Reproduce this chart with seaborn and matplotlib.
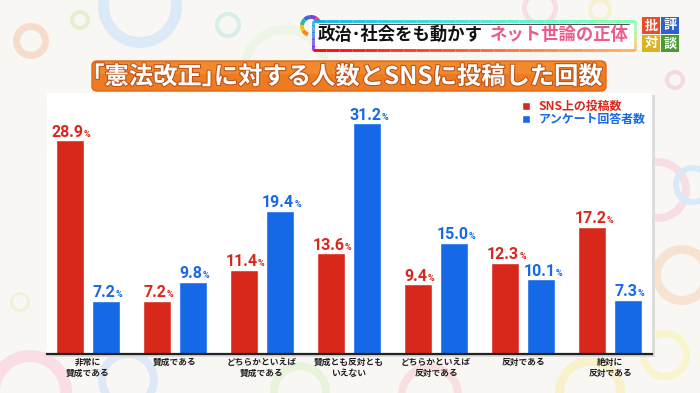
import matplotlib
matplotlib.use('Agg')
import matplotlib.pyplot as plt
import matplotlib.patheffects as pe
from matplotlib.patches import Wedge, FancyBboxPatch, Rectangle
from matplotlib.collections import LineCollection
from matplotlib.offsetbox import TextArea, HPacker, AnnotationBbox
import numpy as np
import pandas as pd
import seaborn as sns

# data (percent)
categories = ['非常に\n賛成である', '賛成である', 'どちらかといえば\n賛成である',
              '賛成とも反対とも\nいえない', 'どちらかといえば\n反対である',
              '反対である', '絶対に\n反対である']
sns_posts = [28.9, 7.2, 11.4, 13.6, 9.4, 12.3, 17.2]
survey_answers = [7.2, 9.8, 19.4, 31.2, 15.0, 10.1, 7.3]
series_names = ['SNS上の投稿数', 'アンケート回答者数']

title = '｢憲法改正｣に対する人数とSNSに投稿した回数'
header_main = '政治･社会をも動かす'
header_pink = 'ネット世論の正体'
logo_chars = ['批', '評', '対', '談']

RED = '#d8281c'
BLUE = '#1669e6'
JP = ['Noto Sans CJK JP', 'DejaVu Sans']
NUM = ['Roboto', 'Noto Sans CJK JP', 'DejaVu Sans']

df = pd.DataFrame({'category': categories,
                   series_names[0]: sns_posts,
                   series_names[1]: survey_answers})
df = df.melt(id_vars='category', var_name='series', value_name='value')

sns.set_theme(style='white')
plt.rcParams['font.family'] = JP

fig = plt.figure(figsize=(7, 3.93), dpi=100)
fig.patch.set_facecolor('#f8f7f4')

# background layer in pixel coordinates
bg = fig.add_axes([0, 0, 1, 1], zorder=0)
bg.set_xlim(0, 700)
bg.set_ylim(393, 0)
bg.axis('off')

rings = [
    (31, 41, 18, 7, '#f6dccb'), (80, 20, 10, 4, '#e6f1cc'),
    (140, 6, 42, 11, '#dce9f6'), (228, 25, 13, 4, '#d7eee9'),
    (285, 70, 45, 9, '#edf5e6'), (20, 302, 10, 3, '#eef3d8'),
    (30, 392, 42, 12, '#f9dfe4'), (128, 380, 30, 8, '#dde9f6'),
    (300, 392, 30, 8, '#e8f3dc'), (430, 395, 32, 8, '#f8e0e0'),
    (590, 392, 35, 9, '#f8f2cc'), (675, 80, 10, 4, '#f6d9de'),
    (658, 190, 32, 8, '#f8dde2'), (693, 185, 20, 6, '#d6eaf7'),
    (682, 275, 30, 9, '#f8e3d2'), (665, 355, 25, 7, '#f8f4cc'),
    (540, 8, 18, 5, '#f7dfe3'), (600, 10, 12, 4, '#f7f0cf'),
]
for cx, cy, r, w, c in rings:
    bg.add_patch(Wedge((cx, cy), r, 0, 360, width=w, facecolor=c, edgecolor='none'))

# panel shadow
bg.add_patch(Rectangle((49, 95), 606, 262, facecolor='#dcdcdc', edgecolor='none'))

# main chart
ax = fig.add_axes([47 / 700, 39 / 393, 605 / 700, 261 / 393], zorder=1)
ax.set_facecolor('white')
sns.barplot(data=df, x='category', y='value', hue='series',
            palette=[RED, BLUE], saturation=1, width=0.83, gap=0.22, ax=ax)

ax.set_xlim(-0.47, 6.48)
ax.set_ylim(0, 35.3)
ax.set_xlabel('')
ax.set_ylabel('')
ax.set_yticks([])
for side in ['top', 'left', 'right']:
    ax.spines[side].set_visible(False)
ax.spines['bottom'].set_color('#222222')
ax.spines['bottom'].set_linewidth(1.6)
ax.tick_params(axis='x', length=0, pad=3, labelsize=6.3, labelcolor='#222222')
for lbl in ax.get_xticklabels():
    lbl.set_fontweight('bold')
    lbl.set_linespacing(1.3)
    lbl.set_family(JP)

# value labels: number with a smaller percent sign
for cont, color in zip(ax.containers, [RED, BLUE]):
    for bar in cont:
        h = bar.get_height()
        xc = bar.get_x() + bar.get_width() / 2
        num = TextArea(f'{h:.1f}', textprops=dict(color=color, fontsize=11.5,
                                                   fontweight='bold', family=NUM))
        pct = TextArea('%', textprops=dict(color=color, fontsize=6.5,
                                           fontweight='bold', family=NUM))
        box = HPacker(children=[num, pct], align='baseline', pad=0, sep=0)
        ab = AnnotationBbox(box, (xc, h), xybox=(1, 0.5), boxcoords='offset points',
                            box_alignment=(0.5, 0), frameon=False, pad=0,
                            annotation_clip=False)
        ax.add_artist(ab)

handles, labels = ax.get_legend_handles_labels()
leg = ax.legend(handles, labels, loc='upper left',
                bbox_to_anchor=(522 / 700, 1 - 100 / 393), bbox_transform=fig.transFigure,
                frameon=False, borderpad=0, borderaxespad=0,
                handlelength=0.65, handleheight=0.65, handletextpad=0.75,
                labelspacing=0.0, labelcolor=[RED, BLUE],
                prop=dict(family=JP, weight='bold', size=8.6))

# overlay: title bars and logo
ov = fig.add_axes([0, 0, 1, 1], zorder=2)
ov.set_xlim(0, 700)
ov.set_ylim(393, 0)
ov.axis('off')
ov.patch.set_alpha(0)

# orange title bar
ov.add_patch(FancyBboxPatch((92, 61), 514, 30, boxstyle='round,pad=0,rounding_size=5',
                            facecolor='#ee7b1f', edgecolor='#e0661a', linewidth=1))
ov.add_patch(FancyBboxPatch((94, 62), 510, 12, boxstyle='round,pad=0,rounding_size=4',
                            facecolor='#f39535', edgecolor='none', alpha=0.6))
ov.text(347, 77, title, ha='center', va='center', color='white', fontsize=17.5,
        fontweight='bold', family=JP,
        path_effects=[pe.withStroke(linewidth=1.5, foreground='#b9511a')])

# header box with rainbow border
ov.add_patch(FancyBboxPatch((313, 21), 322, 29, boxstyle='round,pad=0,rounding_size=3',
                            facecolor='white', edgecolor='none'))
x0, x1, y0, y1 = 313, 635, 21, 50
perim = np.array([[x0, y1], [x0, y0], [x1, y0], [x1, y1], [x0, y1]], dtype=float)
pts = []
for a, b in zip(perim[:-1], perim[1:]):
    for t in np.linspace(0, 1, 25, endpoint=False):
        pts.append(a + (b - a) * t)
pts.append(perim[-1])
pts = np.array(pts)
segs = np.stack([pts[:-1], pts[1:]], axis=1)
lc = LineCollection(segs, cmap='rainbow', linewidths=2)
lc.set_array(np.linspace(0, 1, len(segs)))
ov.add_collection(lc)
ov.plot([x0 + 6, x1 - 6], [y0 + 2.5, y0 + 2.5], color='#333333', lw=0.6)

arc_colors = ['#e8417f', '#8a3fc8', '#2f6fe0', '#33b3a0', '#f2c21a', '#f08a1c']
angles = np.linspace(20, 250, len(arc_colors) + 1)
for c, a0, a1 in zip(arc_colors, angles[:-1], angles[1:]):
    ov.add_patch(Wedge((311, 26), 11, -a1, -a0, width=4, facecolor=c, edgecolor='none'))

ov.text(318, 35, header_main, ha='left', va='center', color='#111111', fontsize=12.5,
        fontweight='bold', family=JP)
ov.text(489, 35, header_pink, ha='left', va='center', color='#ec5a8e', fontsize=12.5,
        fontweight='bold', family=JP)

logo_bg = ['#e84c2b', '#2d62c8', '#d8b423', '#4a9a38']
logo_pos = [(642, 17), (661, 17), (642, 35), (661, 35)]
for ch, c, (lx, ly) in zip(logo_chars, logo_bg, logo_pos):
    ov.add_patch(Rectangle((lx, ly), 18, 17, facecolor=c, edgecolor='none'))
    ov.text(lx + 9, ly + 8.5, ch, ha='center', va='center', color='white',
            fontsize=9.5, fontweight='bold', family=JP)

fig.savefig('out.png', dpi=100, facecolor=fig.get_facecolor())
